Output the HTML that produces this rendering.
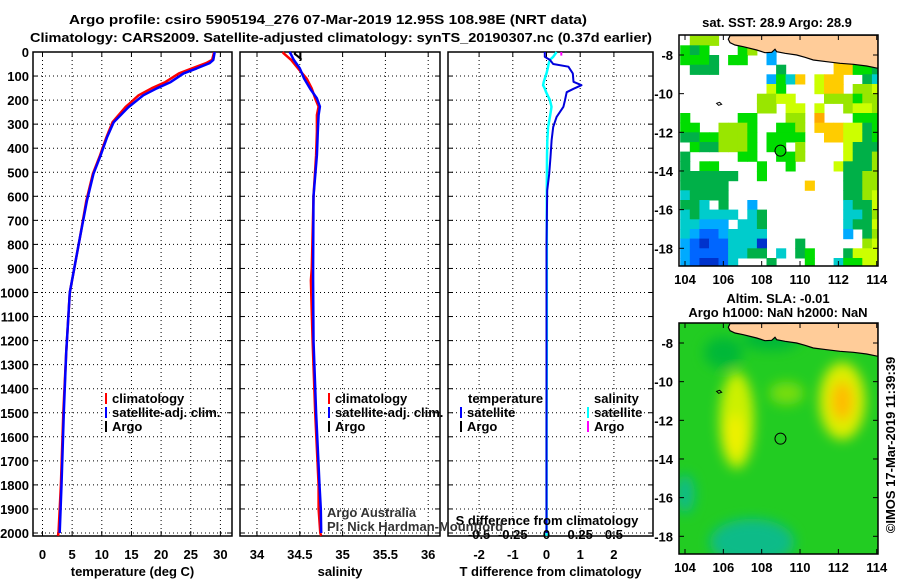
<!DOCTYPE html>
<html><head><meta charset="utf-8"><style>
html,body{margin:0;padding:0;background:#fff;}
svg{display:block;font-family:"Liberation Sans",Arial,sans-serif;}
.b{font-weight:bold;font-size:13px;}
</style></head><body>
<svg id="chart" width="900" height="580" viewBox="0 0 900 580">
<defs>
<clipPath id="clipTop"><rect x="679" y="35" width="199" height="231"/></clipPath>
<clipPath id="clipBot"><rect x="679" y="323" width="199" height="231"/></clipPath>
<filter id="blur" x="-50%" y="-50%" width="200%" height="200%"><feGaussianBlur stdDeviation="6"/></filter>
</defs>
<text x="328" y="24" text-anchor="middle" class="b" textLength="518" lengthAdjust="spacingAndGlyphs">Argo profile: csiro 5905194_276 07-Mar-2019 12.95S 108.98E (NRT data)</text>
<text x="341" y="42" text-anchor="middle" class="b" textLength="622" lengthAdjust="spacingAndGlyphs">Climatology: CARS2009. Satellite-adjusted climatology: synTS_20190307.nc (0.37d earlier)</text>
<g id="plots"></g>
</svg>
<script>
// ---------- data ----------
const depthTicks = [0,100,200,300,400,500,600,700,800,900,1000,1100,1200,1300,1400,1500,1600,1700,1800,1900,2000];
const tempTicks = [0,5,10,15,20,25,30];
const salTicks = [34,34.5,35,35.5,36];
const salTickLabels = ["34","34.5","35","35.5","36"];
const dTTicks = [-2,-1,0,1,2];
const dSTicks = [-0.5,-0.25,0,0.25,0.5];
const dSTickLabels = ["-0.5","-0.25","0","0.25","0.5"];

const depthT = [0,5,33,46,68,89,125,151,180,229,292,354,430,506,617,772,1000,1250,1500,1800,2000,2012];
const climT  = [28.9,28.9,28.6,27.6,25.2,23.0,20.7,18.4,16.2,14.0,11.8,10.8,9.7,8.5,7.4,6.3,4.6,4.0,3.5,3.1,2.7,2.6];
const satT   = [29.0,29.0,28.8,28.2,26.0,23.8,21.6,19.3,17.0,14.5,12.0,10.9,9.8,8.6,7.5,6.3,4.6,4.0,3.6,3.2,2.9,null];
const argoDepthT = [0,10,20];
const argoT = [28.9,28.9,28.8];

const depthS = [0,5,33,68,110,152,193,227,262,332,429,600,900,950,1200,1500,1800,1900,2000,2012];
const climS = [34.30,34.31,34.40,34.48,34.58,34.64,34.68,34.72,34.70,34.70,34.69,34.66,34.64,34.63,34.65,34.68,34.72,34.72,34.74,34.75];
const satS  = [34.38,34.39,34.43,34.50,34.55,34.62,34.70,34.735,34.72,34.71,34.70,34.66,34.655,34.655,34.66,34.69,34.73,34.745,34.75,null];
const argoDepthS = [0,8,16,25,32];
const argoS = [34.45,34.44,34.47,34.50,34.52];

const depthD = [0,20,33,50,61,89,124,138,153,167,200,228,270,312,367,436,507,576,800,1200,1600,2000,2012];
const diffT = [-0.05,-0.05,0.1,0.2,0.65,0.78,0.8,1.04,0.8,0.6,0.55,0.5,0.3,0.2,0.15,0.12,0.08,0.02,0.0,0.0,0.0,0.0,null];
const diffS = [0.075,0.05,0.025,0.015,0.012,0.0,-0.02,-0.025,-0.012,-0.003,0.025,0.037,0.025,0.012,0.006,0.004,0.003,0.002,0.002,0.002,0.001,0.001,0.001];
const argoDepthD = [0,15];
const argoDiffS = [0.11,0.11];

const lonTicks = [104,106,108,110,112,114];
const latTicks = [-8,-10,-12,-14,-16,-18];
const argoLon = 108.98, argoLat = -12.95;
// SST cells: 0.5 deg, cols from 103.75E, rows from 7S
const sstRows = [
".lll................y",
"gGg...gl.b...........",
"gggG.gg..b......YYggG",
".GGG......G.....YYggG",
".........bgcY.yYY..Gc",
".........yg...yYY.lly",
"........llyy...lllgll",
"........ll.yy.y..lyyl",
"g.....gg...ll.o...ggg",
"gg..lllg..ggl.YYYyyGg",
"GGgglllg.gggg..YYyyGg",
".gGGlllg.gg.l....yGGG",
"G.....gg..ggl....yGGl",
"G.gg....g..g....yGGGl",
"GGGGGG..g........GGll",
"GGGGG........Y...GGll",
"cGGGG............GGly",
"GGc.G..b.........cGGy",
"cGcccc.cG........ccGl",
"ccbbb.ccG........cGGy",
"cbBBbcccc........b.Gl",
"bBDBBcccD...G......ly",
"bBBBBccGG.c.Gg...Gyyy",
"bBDDBc...G...g..cggyy"];
const sstColors = {g:"#00dd00",G:"#00b048",l:"#99e600",y:"#ccff00",Y:"#ffcc00",o:"#ffaa00",c:"#00cccc",b:"#00aaff",B:"#0066ff",D:"#0033cc"};
// SLA anomalies: lon, lat, rx(deg), ry(deg), color
const slaLon = [106.7,106.6,112.2,112.2,109.3,107.5,104.0,108.5,106.0];
const slaLat = [-12.0,-12.8,-11.0,-11.0,-10.6,-18.3,-15.8,-7.8,-8.5];
const slaRx  = [0.9,0.55,1.2,0.55,0.9,2.2,0.5,1.5,1.0];
const slaRy  = [2.5,1.1,2.0,1.0,0.6,1.2,1.0,0.6,0.8];
const slaCol = ["#ccf000","#eef000","#ddee00","#ffbb00","#77dd11","#11bb88","#11bb88","#00b838","#00b838"];

// ---------- scales ----------
const Y0=52, KY=0.2405, YB=536;
const yD = d => Y0 + d*KY;
const xT = t => 42.5 + t*5.93;
const xS = s => 257 + (s-34)*85.6;
const xDT = v => 546.5 + v*33.7;
const xDS = v => 546.5 + v*33.7*4;
const mLonX = lon => 685 + (lon-104)*19.17;
const mLatY = lat => 55 + (-8-lat)*19.33;

const NS="http://www.w3.org/2000/svg";
const root=document.getElementById('plots');
function mk(tag, attrs, parent){
  const e=document.createElementNS(NS,tag);
  for(const k in attrs) e.setAttribute(k,attrs[k]);
  (parent||root).appendChild(e); return e;
}
function txt(x,y,s,anchor,cls,parent){
  const t=mk('text',{x:x,y:y,'text-anchor':anchor||'middle','class':cls||'b'},parent);
  t.textContent=s; return t;
}

const panels=[
 {name:'temperature-panel',x0:33,x1:232,ticks:tempTicks,labels:tempTicks.map(String),fx:xT,title:'temperature (deg C)'},
 {name:'salinity-panel',x0:240,x1:440,ticks:salTicks,labels:salTickLabels,fx:xS,title:'salinity'},
 {name:'difference-panel',x0:448,x1:653,ticks:dTTicks,labels:dTTicks.map(String),fx:xDT,title:'T difference from climatology'}
];
panels.forEach((p,pi)=>{
  const g=mk('g',{});
  
  
  depthTicks.forEach(d=>{
    if(d===0) return;
    const l=mk('line',{x1:p.x0,x2:p.x1,y1:yD(d),y2:yD(d),stroke:'#000','stroke-width':1,'stroke-dasharray':'1,3'},g);
    
    
    mk('line',{x1:p.x0,x2:p.x0+5,y1:yD(d),y2:yD(d),stroke:'#000'},g);
    mk('line',{x1:p.x1-5,x2:p.x1,y1:yD(d),y2:yD(d),stroke:'#000'},g);
  });
  p.ticks.forEach((t,i)=>{
    const x=p.fx(t);
    const l=mk('line',{x1:x,x2:x,y1:Y0,y2:YB,stroke:'#000','stroke-width':1,'stroke-dasharray':'1,3'},g);
    
    
    mk('line',{x1:x,x2:x,y1:YB-5,y2:YB,stroke:'#000'},g);
    mk('line',{x1:x,x2:x,y1:Y0,y2:Y0+5,stroke:'#000'},g);
    const tl=txt(x,559,p.labels[i],'middle','b',g);
    
    
  });
  const at=txt((p.x0+p.x1)/2,576,p.title,'middle','b',g);
  
  
  const fr=mk('rect',{x:p.x0,y:Y0,width:p.x1-p.x0,height:YB-Y0,fill:'none',stroke:'#000','stroke-width':1.5},g);
  
  
});
depthTicks.forEach(d=>{
  const t=txt(29,yD(d)+5,String(d),'end','b');
  
  
});

function series(depths, vals, fx, color, name, w){
  let segs=[], cur=[];
  depths.forEach((d,i)=>{
    if(vals[i]===null||vals[i]===undefined){ if(cur.length) segs.push(cur); cur=[]; return; }
    cur.push(fx(vals[i]).toFixed(1)+','+yD(d).toFixed(1));
  });
  if(cur.length) segs.push(cur);
  segs.forEach(s=>{
    const pl=mk('polyline',{points:s.join(' '),fill:'none',stroke:color,'stroke-width':w||2.5,'stroke-linejoin':'round'});
    
    
  });
}
series(argoDepthT,argoT,xT,'#000','argo-temperature-line',2);
series(depthT,climT,xT,'#ff0000','climatology-temperature-line');
series(depthT,satT,xT,'#0000ff','satellite-temperature-line');
series(argoDepthS,argoS,xS,'#000','argo-salinity-line',2);
series(depthS,climS,xS,'#ff0000','climatology-salinity-line');
series(depthS,satS,xS,'#0000ff','satellite-salinity-line');
series(depthD,diffS,xDS,'#00ffff','salinity-difference-line');
series(depthD,diffT,xDT,'#0000dd','temperature-difference-line',2);
series(argoDepthD,argoDiffS,xDS,'#ff00ff','argo-salinity-difference-line',2);
{const l=mk('line',{x1:xS(34.51),x2:xS(34.51),y1:Y0,y2:Y0+9,stroke:'#000','stroke-width':1.5});
  }

function legendEntry(x,y,color,label,name){
  const g=mk('g',{});
  
  
  mk('line',{x1:x,x2:x,y1:y-10,y2:y+1,stroke:color,'stroke-width':2},g);
  txt(x+6,y,label,'start','b',g);
}
[[106,'#ff0000','climatology'],[106,'#0000ff','satellite-adj. clim.'],[106,'#000','Argo']].forEach((e,i)=>legendEntry(e[0],403+i*14,e[1],e[2],'temperature-legend-entry'));
[[329,'#ff0000','climatology'],[329,'#0000ff','satellite-adj. clim.'],[329,'#000','Argo']].forEach((e,i)=>legendEntry(e[0],403+i*14,e[1],e[2],'salinity-legend-entry'));
{const t=txt(468,403,'temperature','start','b');  }
{const t=txt(594,403,'salinity','start','b');  }
legendEntry(461,417,'#0000ff','satellite','diff-legend-entry');
legendEntry(461,431,'#000','Argo','diff-legend-entry');
legendEntry(588,417,'#00ffff','satellite','diff-legend-entry');
legendEntry(588,431,'#ff00ff','Argo','diff-legend-entry');

{const t=txt(547,525,'S difference from climatology','middle','b');  }
dSTicks.forEach((v,i)=>{const t=txt(xDS(v),539,dSTickLabels[i],'middle','b');  });
{const t=txt(327,517,'Argo Australia','start',''); t.setAttribute('font-size','12'); t.setAttribute('fill','#333');  }
{const t=txt(327,531,'PI: Nick Hardman-Mountford','start',''); t.setAttribute('font-size','12'); t.setAttribute('fill','#333');  }

// ---------- maps ----------
const coastPts=[[730,35.7],[728.3,39.3],[730,42.7],[735,45],[743.3,46.7],[756.7,50],[765,52.7],[771.7,52.3],[775,49.3],[776.7,51.7],[785,53.3],[796.7,55],[805,57.3],[813.3,60],[826.7,61.7],[840,63.3],[853.3,64.3],[866.7,66],[878,68.3],[878,35]];
function drawMap(off,kind){
  const g=mk('g',{'clip-path':'url(#'+(kind==='sst'?'clipTop':'clipBot')+')'});
  
  
  if(kind==='sst'){
    mk('rect',{x:679,y:35,width:199,height:231,fill:'#fff'},g);
    sstRows.forEach((row,j)=>{
      for(let i=0;i<row.length;i++){
        const c=row[i]; if(c==='.') continue;
        const lon=103.75+0.5*i, lat=-7-0.5*j;
        const x=mLonX(lon), y=mLatY(lat);
        const r=mk('rect',{x:x.toFixed(1),y:y.toFixed(1),width:(0.5*19.17+0.5).toFixed(1),height:(0.5*19.33+0.5).toFixed(1),fill:sstColors[c]},g);
        
        
      }
    });
  } else {
    mk('rect',{x:679,y:323,width:199,height:231,fill:'#22cc22'},g);
    const bg=mk('g',{filter:'url(#blur)'},g);
    slaLon.forEach((lon,i)=>{
      const e=mk('ellipse',{cx:mLonX(lon),cy:mLatY(slaLat[i])+off,rx:slaRx[i]*19.17,ry:slaRy[i]*19.33,fill:slaCol[i]},bg);
      
      
    });
  }
  const land=mk('polygon',{points:coastPts.map(p=>p[0]+','+(p[1]+off)).join(' '),fill:'#ffcc99',stroke:'#000','stroke-width':1.2},g);
  
  
  mk('path',{d:'M'+(mLonX(105.65))+' '+(mLatY(-10.5)+off)+' l3 -1 l2 2 l-3 1z',fill:'none',stroke:'#000'},g);
  const c=mk('circle',{cx:mLonX(argoLon),cy:mLatY(argoLat)+off,r:5.5,fill:'none',stroke:'#000','stroke-width':1},g);
  
  
  const fr=mk('rect',{x:679,y:35+off,width:199,height:231,fill:'none',stroke:'#000','stroke-width':1.5});
  
  
  lonTicks.forEach(l=>{
    const x=mLonX(l);
    mk('line',{x1:x,x2:x,y1:266+off,y2:261+off,stroke:'#000'});
    mk('line',{x1:x,x2:x,y1:35+off,y2:40+off,stroke:'#000'});
    const t=txt(x,284+off,String(l),'middle','b');
    
    
  });
  latTicks.forEach(l=>{
    const y=mLatY(l)+off;
    mk('line',{x1:679,x2:684,y1:y,y2:y,stroke:'#000'});
    mk('line',{x1:873,x2:878,y1:y,y2:y,stroke:'#000'});
    const t=txt(673,y+5,String(l),'end','b');
    
    
  });
}
drawMap(0,'sst');
drawMap(288,'sla');
{const t=txt(777,27,'sat. SST: 28.9 Argo: 28.9','middle','b');  }
{const t=txt(778,303,'Altim. SLA: -0.01','middle','b');  }
{const t=txt(778,317,'Argo h1000: NaN h2000: NaN','middle','b');  }
{const t=txt(0,0,'©IMOS 17-Mar-2019 11:39:39','middle',''); t.setAttribute('font-size','13'); t.setAttribute('transform','translate(895,445) rotate(-90)');  }
</script>
</body></html>
